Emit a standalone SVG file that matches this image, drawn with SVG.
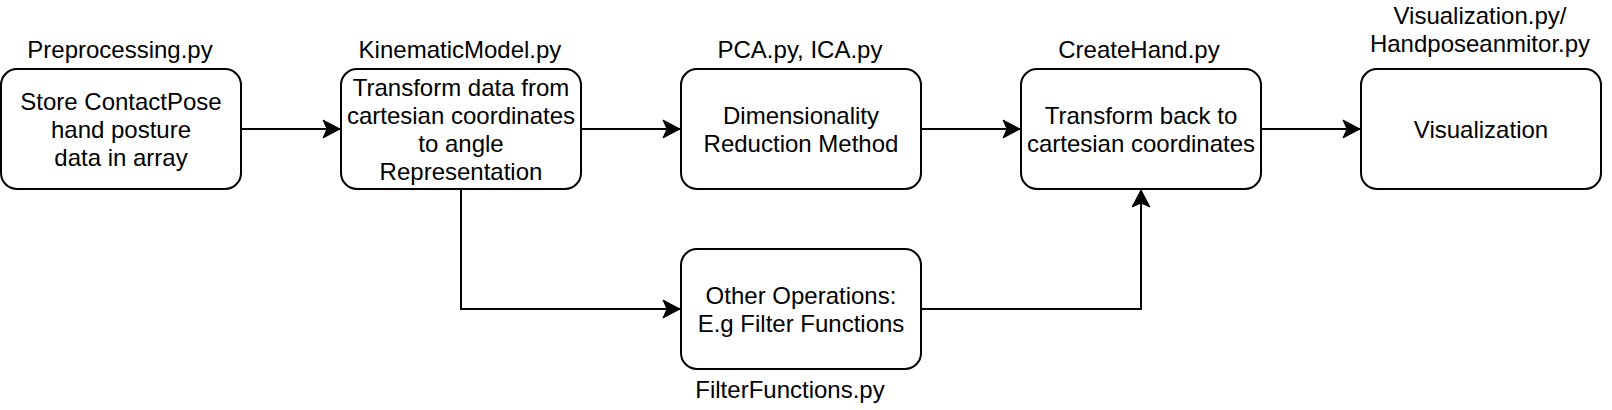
<svg xmlns="http://www.w3.org/2000/svg" width="1612" height="410" viewBox="0 0 1612 410">
<style>
.box{fill:#fff;stroke:#000;stroke-width:2}
.t{font-family:"Liberation Sans",Arial,sans-serif;font-size:24px;fill:#000;text-anchor:middle}
.edge{fill:none;stroke:#000;stroke-width:2}
</style>
<defs>
<marker id="arr" markerUnits="userSpaceOnUse" markerWidth="20" markerHeight="20" viewBox="-18 -10 20 20" refX="0" refY="0" orient="auto">
<path d="M0,0 L-17,-9 L-13,0 L-17,9 Z" fill="#000" stroke="#000" stroke-width="1"/>
</marker>
</defs>
<rect width="1612" height="410" fill="#fff"/>
<g id="edges">
<path class="edge" d="M241,129 L340,129" marker-end="url(#arr)"/>
<path class="edge" d="M581,129 L680,129" marker-end="url(#arr)"/>
<path class="edge" d="M921,129 L1020,129" marker-end="url(#arr)"/>
<path class="edge" d="M1261,129 L1360,129" marker-end="url(#arr)"/>
<path class="edge" d="M461,189 L461,309 L680,309" marker-end="url(#arr)"/>
<path class="edge" d="M921,309 L1141,309 L1141,190" marker-end="url(#arr)"/>
</g>
<g id="preprocessing">
<rect class="box" x="1" y="69" width="240" height="120" rx="16"/>
<text class="t" x="121" y="110">Store ContactPose</text>
<text class="t" x="121" y="138">hand posture</text>
<text class="t" x="121" y="166">data in array</text>
<text class="t" x="120" y="58">Preprocessing.py</text>
</g>
<g id="kinematic">
<rect class="box" x="341" y="69" width="240" height="120" rx="16"/>
<text class="t" x="461" y="96">Transform data from</text>
<text class="t" x="461" y="124">cartesian coordinates</text>
<text class="t" x="461" y="152">to angle</text>
<text class="t" x="461" y="180">Representation</text>
<text class="t" x="460" y="58">KinematicModel.py</text>
</g>
<g id="reduction">
<rect class="box" x="681" y="69" width="240" height="120" rx="16"/>
<text class="t" x="801" y="124">Dimensionality</text>
<text class="t" x="801" y="152">Reduction Method</text>
<text class="t" x="800" y="58">PCA.py, ICA.py</text>
</g>
<g id="createhand">
<rect class="box" x="1021" y="69" width="240" height="120" rx="16"/>
<text class="t" x="1141" y="124">Transform back to</text>
<text class="t" x="1141" y="152">cartesian coordinates</text>
<text class="t" x="1139" y="58">CreateHand.py</text>
</g>
<g id="visualization">
<rect class="box" x="1361" y="69" width="240" height="120" rx="16"/>
<text class="t" x="1481" y="138">Visualization</text>
<text class="t" x="1480" y="24">Visualization.py/</text>
<text class="t" x="1480" y="52">Handposeanmitor.py</text>
</g>
<g id="filter">
<rect class="box" x="681" y="249" width="240" height="120" rx="16"/>
<text class="t" x="801" y="304">Other Operations:</text>
<text class="t" x="801" y="332">E.g Filter Functions</text>
<text class="t" x="790" y="398">FilterFunctions.py</text>
</g>
</svg>
